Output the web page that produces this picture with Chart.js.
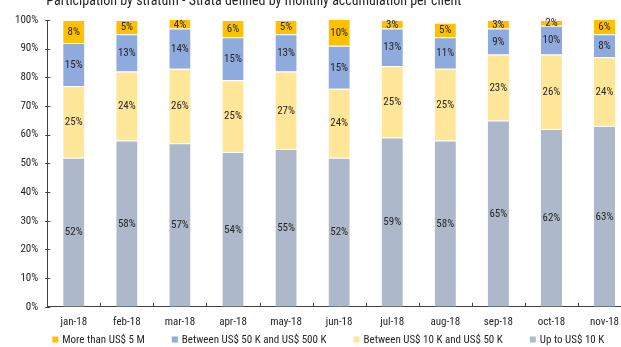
<!DOCTYPE html>
<html>
<head>
<meta charset="utf-8">
<script src="https://cdn.jsdelivr.net/npm/chart.js@4/dist/chart.umd.min.js"></script>
<style>
  html, body { margin: 0; padding: 0; background: #fff; overflow: hidden; }
  #wrap { position: absolute; left: 0; top: -12px; width: 640px; height: 359px; }
</style>
</head>
<body>
<div id="wrap"><canvas id="c"></canvas></div>
<script>
const months = ['jan-18','feb-18','mar-18','apr-18','may-18','jun-18','jul-18','aug-18','sep-18','oct-18','nov-18'];
const upTo10K       = [52, 58, 57, 54, 55, 52, 59, 58, 65, 62, 63];
const from10Kto50K  = [25, 24, 26, 25, 27, 24, 25, 25, 23, 26, 24];
const from50Kto500K = [15, 13, 14, 15, 13, 15, 13, 11, 9, 10, 8];
const over5M        = [8, 5, 4, 6, 5, 10, 3, 5, 3, 2, 6];
const yTicks = [0, 10, 20, 30, 40, 50, 60, 70, 80, 90, 100];
const titleText = 'Participation by stratum - Strata defined by monthly accumulation per client';

const FONT = "'Roboto Condensed', 'Roboto', sans-serif";
const TEXT = '#262626';

// Title set flush with the value axis
const titleLine = {
  id: 'titleLine',
  afterDraw(chart) {
    const ctx = chart.ctx;
    ctx.save();
    ctx.font = '14px ' + FONT;
    ctx.fillStyle = TEXT;
    ctx.textAlign = 'left';
    ctx.textBaseline = 'alphabetic';
    ctx.fillText(titleText, chart.chartArea.left - 1, 17);
    ctx.restore();
  }
};

// Percent labels centred in each stacked segment
const segmentLabels = {
  id: 'segmentLabels',
  afterDatasetsDraw(chart) {
    const ctx = chart.ctx;
    ctx.save();
    ctx.font = '11px ' + FONT;
    ctx.fillStyle = TEXT;
    ctx.textAlign = 'center';
    ctx.textBaseline = 'middle';
    chart.data.datasets.forEach((ds, i) => {
      const meta = chart.getDatasetMeta(i);
      meta.data.forEach((bar, j) => {
        const top = Math.max(bar.y, chart.chartArea.top);
        ctx.fillText(ds.data[j] + '%', bar.x, (top + bar.base) / 2 + 0.5);
      });
    });
    ctx.restore();
  }
};

// Short inward tick marks on both axes
const axisTicks = {
  id: 'axisTicks',
  afterDraw(chart) {
    const ctx = chart.ctx;
    const x = chart.scales.x, y = chart.scales.y;
    ctx.save();
    ctx.strokeStyle = '#404040';
    ctx.lineWidth = 1;
    ctx.beginPath();
    for (let i = 1; i < months.length; i++) {
      const px = Math.round(x.left + (x.right - x.left) * i / months.length) + 0.5;
      ctx.moveTo(px, y.bottom);
      ctx.lineTo(px, y.bottom - 4);
    }
    yTicks.forEach(v => {
      const py = Math.round(y.getPixelForValue(v)) + 0.5;
      ctx.moveTo(x.left - 2, py);
      ctx.lineTo(x.left + 3, py);
    });
    ctx.stroke();
    ctx.restore();
  }
};

// Single-row legend under the category labels, series listed top stratum first
const bottomLegend = {
  id: 'bottomLegend',
  afterDraw(chart) {
    const ctx = chart.ctx;
    const items = chart.data.datasets.slice().reverse();
    ctx.save();
    ctx.font = '11px ' + FONT;
    ctx.textBaseline = 'middle';
    ctx.textAlign = 'left';
    const box = 6, gapBoxText = 4, gapItems = 27;
    let x = chart.chartArea.left + 5;
    const yMid = chart.height - 7.5;
    items.forEach(ds => {
      ctx.fillStyle = ds.backgroundColor;
      ctx.fillRect(x, yMid - box / 2, box, box);
      x += box + gapBoxText;
      ctx.fillStyle = TEXT;
      ctx.fillText(ds.label, x, yMid + 0.5);
      x += ctx.measureText(ds.label).width + gapItems;
    });
    ctx.restore();
  }
};

const mk = (label, data, color) => ({
  label, data, backgroundColor: color,
  borderColor: 'rgba(255,255,255,0.8)', borderWidth: { top: 1 }, borderSkipped: false,
  categoryPercentage: 0.4, barPercentage: 1.0
});

new Chart(document.getElementById('c'), {
  type: 'bar',
  data: {
    labels: months,
    datasets: [
      mk('Up to US$ 10 K', upTo10K, '#ADB9CA'),
      mk('Between US$ 10 K and US$ 50 K', from10Kto50K, '#FFE699'),
      mk('Between US$ 50 K and US$ 500 K', from50Kto500K, '#8FAADC'),
      mk('More than US$ 5 M', over5M, '#FFC000')
    ]
  },
  options: {
    responsive: true,
    maintainAspectRatio: false,
    animation: false,
    layout: { padding: { left: 6, right: 9, top: 32, bottom: 9 } },
    plugins: {
      title: { display: false },
      legend: { display: false },
      tooltip: { enabled: false }
    },
    scales: {
      x: {
        stacked: true,
        grid: { display: false, drawTicks: false },
        border: { display: true, color: '#404040' },
        ticks: { color: TEXT, font: { family: FONT, size: 11 }, padding: 9, maxRotation: 0 }
      },
      y: {
        stacked: true,
        min: 0, max: 100,
        afterBuildTicks: s => { s.ticks = yTicks.map(v => ({ value: v })); },
        grid: { display: false, drawTicks: false },
        border: { display: true, color: '#404040' },
        ticks: { color: TEXT, font: { family: FONT, size: 11 }, padding: 9, callback: v => v + '%' }
      }
    }
  },
  plugins: [titleLine, segmentLabels, axisTicks, bottomLegend]
});
</script>
</body>
</html>
